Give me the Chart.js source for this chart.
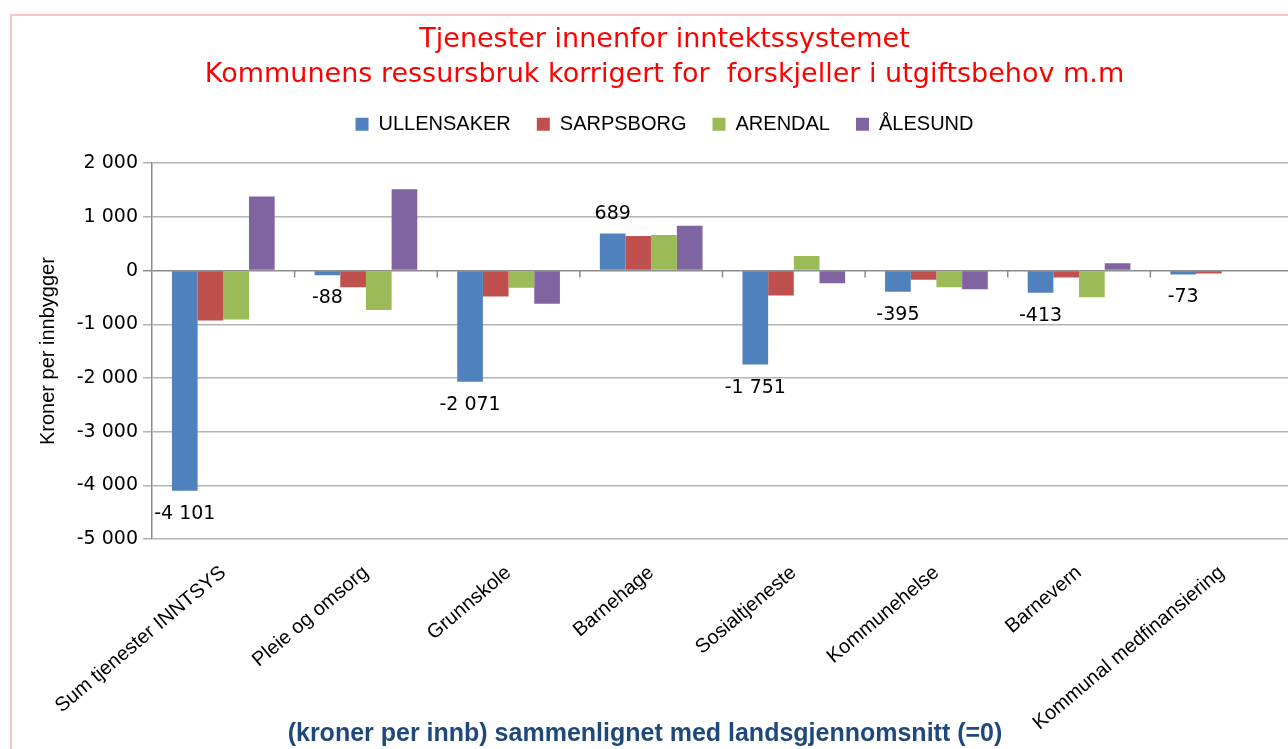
<!DOCTYPE html>
<html lang="no">
<head>
<meta charset="utf-8">
<title>Tjenester innenfor inntektssystemet</title>
<script src="https://cdn.jsdelivr.net/npm/chart.js@4.4.1/dist/chart.umd.min.js"></script>
<style>
  html, body { margin: 0; padding: 0; background: #fff; overflow: hidden; }
  #frame { position: absolute; left: 10px; top: 14px; width: 1300px; height: 800px; border: 2px solid #fbc3c6; }
  #wrap { position: absolute; left: 0; top: 0; width: 1310px; height: 749px; }
  #note { position: absolute; left: 0; width: 1290px; top: 718px; text-align: center;
          font: bold 25px "Liberation Sans", sans-serif; color: #1f497d; }
</style>
</head>
<body>
<div id="frame"></div>
<div id="wrap"><canvas id="barChart" width="1310" height="749"></canvas></div>
<div id="note">(kroner per innb) sammenlignet med landsgjennomsnitt (=0)</div>
<script>
// kategorier og verdier (kroner per innbygger)
const categories = ["Sum tjenester INNTSYS", "Pleie og omsorg", "Grunnskole", "Barnehage",
  "Sosialtjeneste", "Kommunehelse", "Barnevern", "Kommunal medfinansiering"];
const ullensaker = [-4101, -88, -2071, 689, -1751, -395, -413, -73];
const sarpsborg = [-930, -310, -482, 643, -464, -173, -130, -56];
const arendal = [-910, -736, -321, 662, 272, -310, -495, null];
const alesund = [1380, 1516, -618, 835, -235, -347, 136, null];
const yMin = -5000;
const yMax = 2000;
const yStep = 1000;

// tall med mellomrom som tusenskille
function fmt(v) {
  const s = Math.abs(v).toString().replace(/\B(?=(\d{3})+(?!\d))/g, " ");
  return (v < 0 ? "-" : "") + s;
}

// litt luft mellom tegnforklaring og plottet
const spacer = {
  id: "spacer",
  beforeInit(chart) {
    Chart.layouts.addBox(chart, {
      position: "top",
      weight: 1,
      fullSize: true,
      options: {},
      isHorizontal() { return true; },
      update(maxWidth) { this.width = maxWidth; this.height = 19; },
      draw() {}
    });
  }
};

// etiketter på ULLENSAKER-søylene + små streker på nullinjen
const extras = {
  id: "extras",
  afterDatasetsDraw(chart) {
    const ctx = chart.ctx;
    const xs = chart.scales.x, ys = chart.scales.y;
    const y0 = ys.getPixelForValue(0);
    ctx.save();
    ctx.strokeStyle = "#8c8c8c";
    ctx.lineWidth = 1.5;
    for (let i = 1; i < categories.length; i++) {
      const px = (xs.getPixelForValue(i - 1) + xs.getPixelForValue(i)) / 2;
      ctx.beginPath();
      ctx.moveTo(px, y0);
      ctx.lineTo(px, y0 + 7);
      ctx.stroke();
    }
    const meta = chart.getDatasetMeta(0);
    ctx.fillStyle = "#000";
    ctx.font = "19px 'DejaVu Sans'";
    ctx.textAlign = "center";
    ctx.textBaseline = "middle";
    meta.data.forEach((bar, i) => {
      const v = ullensaker[i];
      const y = v < 0 ? bar.y + 23 : bar.y - 20;
      ctx.fillText(fmt(v), bar.x, y);
    });
    ctx.restore();
  }
};

const ctxBar = document.getElementById("barChart").getContext("2d");

new Chart(ctxBar, {
  type: "bar",
  data: {
    labels: categories,
    datasets: [
      { label: "ULLENSAKER", data: ullensaker, backgroundColor: "#4f81bd" },
      { label: "SARPSBORG", data: sarpsborg, backgroundColor: "#c0504d" },
      { label: "ARENDAL", data: arendal, backgroundColor: "#9bbb59" },
      { label: "ÅLESUND", data: alesund, backgroundColor: "#8064a2" }
    ]
  },
  options: {
    responsive: false,
    animation: false,
    datasets: {
      bar: { categoryPercentage: 0.72, barPercentage: 1, borderWidth: 0 }
    },
    layout: { padding: { left: 36, top: 14, right: 17, bottom: 0 } },
    plugins: {
      title: {
        display: true,
        text: ["Tjenester innenfor inntektssystemet",
               "Kommunens ressursbruk korrigert for  forskjeller i utgiftsbehov m.m"],
        color: "#ff0000",
        font: { family: "'DejaVu Sans'", size: 27, weight: "normal", lineHeight: 1.3 },
        padding: { top: 8, bottom: -4 }
      },
      legend: {
        labels: {
          color: "#000",
          boxWidth: 13,
          boxHeight: 13,
          padding: 26,
          font: { family: "'Liberation Sans'", size: 20 }
        }
      },
      tooltip: { enabled: false }
    },
    scales: {
      x: {
        afterFit(scale) { scale.height = 210; },
        grid: { display: false },
        border: { display: false },
        ticks: {
          color: "#000",
          autoSkip: false,
          minRotation: 40,
          maxRotation: 40,
          padding: 14,
          font: { family: "'Liberation Sans'", size: 20 }
        }
      },
      y: {
        min: yMin,
        max: yMax,
        afterFit(scale) { scale.width = 116; },
        title: {
          display: true,
          text: "Kroner per innbygger",
          color: "#000",
          padding: 0,
          font: { family: "'Liberation Sans'", size: 20 }
        },
        border: { display: true, color: "#8c8c8c", width: 1.5 },
        grid: {
          color: (c) => (c.tick && c.tick.value === 0 ? "#8c8c8c" : "#b3b3b3"),
          lineWidth: 1.5,
          tickLength: 9
        },
        ticks: {
          stepSize: yStep,
          color: "#000",
          padding: 5,
          font: { family: "'DejaVu Sans'", size: 19 },
          callback: (v) => fmt(v)
        }
      }
    }
  },
  plugins: [spacer, extras]
});
</script>
</body>
</html>
